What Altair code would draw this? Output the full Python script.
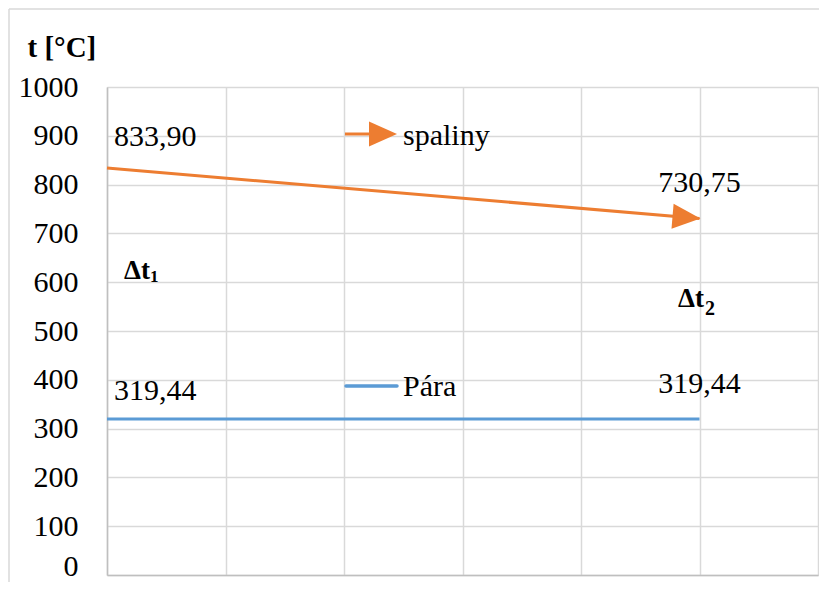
import altair as alt
import pandas as pd

# ---- data ----
x_pos = [0, 5]
spaliny = [833.90, 730.75]
para = [319.44, 319.44]
x_ticks = [0, 1, 2, 3, 4, 5, 6]
y_ticks = list(range(0, 1001, 100))
series_names = ["spaliny", "Pára"]
y_title = "t [°C]"
delta_main = ["Δt", "Δt"]
delta_sub = ["1", "2"]

ORANGE = "#ED7D31"
BLUE = "#5B9BD5"
GRID = "#D9D9D9"
FONT = "Liberation Serif"


def fmt(v):
    return f"{v:.2f}".replace(".", ",")


df_sp = pd.DataFrame({"x": x_pos, "t": spaliny})
df_sp["label"] = [fmt(v) for v in spaliny]
df_pa = pd.DataFrame({"x": x_pos, "t": para})
df_pa["label"] = [fmt(v) for v in para]

W, H = 711, 488
xs = alt.Scale(domain=[0, 6], nice=False, zero=False)
ys = alt.Scale(domain=[0, 1000], nice=False)

x_enc = alt.X(
    "x:Q", scale=xs,
    axis=alt.Axis(values=x_ticks, labels=False, ticks=False, title=None,
                  grid=True, gridColor=GRID, gridWidth=1.5,
                  domainColor="#BFBFBF", domainWidth=1.5),
)
y_enc = alt.Y(
    "t:Q", scale=ys,
    axis=alt.Axis(values=y_ticks, format="d", title=y_title, titleAngle=0, titleX=-80, titleY=-40,
                  titleAlign="left", titleBaseline="middle", titleFont=FONT,
                  titleFontSize=29, titleFontWeight="bold", titleColor="black",
                  labelFont=FONT, labelFontSize=30, labelColor="black", labelPadding=29,
                  labelOffset={"condition": {"test": "datum.value === 0", "value": -9}, "value": 0},
                  labelBound=False, labelOverlap=False,
                  ticks=False, grid=True, gridColor=GRID, gridWidth=1.5,
                  domainColor="#BFBFBF", domainWidth=1.5),
)

line_sp = alt.Chart(df_sp).mark_line(color=ORANGE, strokeWidth=3).encode(x=x_enc, y=y_enc)
line_pa = alt.Chart(df_pa).mark_line(color=BLUE, strokeWidth=3).encode(x=x_enc, y=y_enc)

ARROW = "M-1,-0.9L1,0L-1,0.9Z"
arrow_end = alt.Chart(df_sp.tail(1)).mark_point(
    shape=ARROW, size=784, filled=True, color=ORANGE, opacity=1, strokeWidth=0,
    angle=4.8, xOffset=-13, yOffset=-1,
).encode(x=x_enc, y=y_enc)


def start_labels(df, dy):
    return alt.Chart(df.head(1)).mark_text(
        font=FONT, fontSize=30, align="left", baseline="alphabetic", dx=7, dy=dy, color="black"
    ).encode(x=x_enc, y=y_enc, text="label:N")


def end_labels(df, dy):
    return alt.Chart(df.tail(1)).mark_text(
        font=FONT, fontSize=30, align="center", baseline="alphabetic", dy=dy, color="black"
    ).encode(x=x_enc, y=y_enc, text="label:N")


one = alt.Data(values=[{"a": 1}])


def txt(s, x, y, size=30, weight="normal"):
    return alt.Chart(one).mark_text(
        text=s, font=FONT, fontSize=size, fontWeight=weight, align="left",
        baseline="alphabetic", color="black").encode(x=alt.value(x), y=alt.value(y))


# legend-like entries inside the plot
leg_sp_line = alt.Chart(one).mark_rule(color=ORANGE, strokeWidth=3).encode(
    x=alt.value(238), x2=alt.value(266), y=alt.value(47))
leg_sp_arrow = alt.Chart(one).mark_point(
    shape=ARROW, size=784, filled=True, color=ORANGE, opacity=1, strokeWidth=0).encode(
    x=alt.value(276), y=alt.value(47))
leg_pa_line = alt.Chart(one).mark_rule(color=BLUE, strokeWidth=3.5, strokeCap="round").encode(
    x=alt.value(239), x2=alt.value(290), y=alt.value(299))

# outer chart-area border (top and left)
border_top = alt.Chart(one).mark_rule(color=GRID, strokeWidth=1.5).encode(
    x=alt.value(-98), x2=alt.value(W + 10), y=alt.value(-78))
border_left = alt.Chart(one).mark_rule(color=GRID, strokeWidth=1.5).encode(
    x=alt.value(-98), y=alt.value(-78), y2=alt.value(H + 10))

chart = alt.layer(
    line_sp, line_pa, arrow_end,
    start_labels(df_sp, -22), end_labels(df_sp, -26),
    start_labels(df_pa, -19), end_labels(df_pa, -26),
    leg_sp_line, leg_sp_arrow, txt(series_names[0], 296, 58),
    leg_pa_line, txt(series_names[1], 296, 309),
    txt(delta_main[0], 17, 192, 27, "bold"), txt(delta_sub[0], 43, 195, 17, "bold"),
    txt(delta_main[1], 571, 220, 27, "bold"), txt(delta_sub[1], 598, 228, 20, "bold"),
    border_top, border_left,
).properties(
    width=W, height=H,
    autosize=alt.AutoSizeParams(type="none"),
    padding={"left": 99, "top": 79, "right": 1, "bottom": 7},
).configure_view(stroke=None).configure(background="white")

chart.save("out.html", embed_options={"renderer": "svg", "actions": False})
